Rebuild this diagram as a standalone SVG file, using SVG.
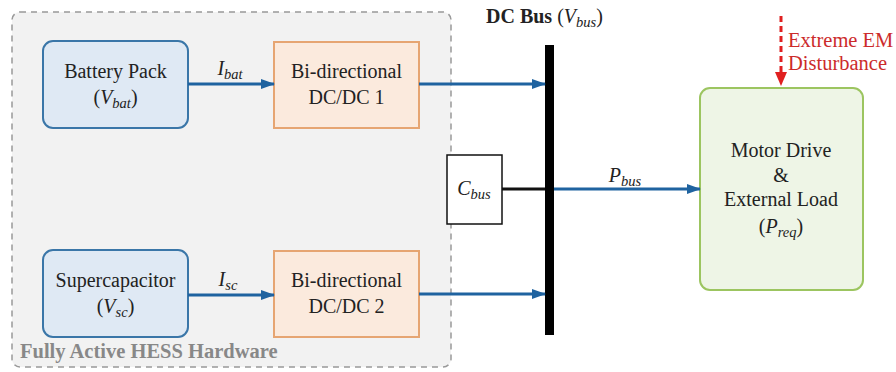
<svg xmlns="http://www.w3.org/2000/svg" width="896" height="372" viewBox="0 0 896 372" font-family="'Liberation Serif', 'Times New Roman', Times, 'DejaVu Serif', serif">
<style>
text{font-size:20px;fill:#222;text-anchor:middle}
.src{fill:#dfe9f4;stroke:#3a76a8;stroke-width:2}
.conv{fill:#fbeadd;stroke:#e6a572;stroke-width:2}
.load{fill:#eef5e6;stroke:#9cc560;stroke-width:2}
.flow{stroke:#1f63a0;stroke-width:3;fill:none}
.it{font-style:italic}
.sub{font-size:14.5px;font-style:italic}
.red{fill:#cc2b2b;font-size:20.5px}
</style>
<defs>
<marker id="ab" markerWidth="14" markerHeight="10" refX="13" refY="5" orient="auto" markerUnits="userSpaceOnUse"><path d="M0,0 L14,5 L0,10 Z" fill="#1f63a0"/></marker>
</defs>
<g id="hess">
<rect x="12" y="12" width="439" height="355" rx="8" fill="#f2f2f2" stroke="#999" stroke-width="1.5" stroke-dasharray="6,5"/>
<text x="20" y="358" style="font-weight:bold;fill:#888;text-anchor:start;font-size:20.5px">Fully Active HESS Hardware</text>
</g>
<g id="battery">
<rect class="src" x="43" y="41" width="145" height="87" rx="10"/>
<text x="115.5" y="78">Battery Pack</text>
<text x="115.5" y="104">(<tspan class="it">V</tspan><tspan class="sub" dy="4">bat</tspan><tspan dy="-4">)</tspan></text>
</g>
<g id="dcdc1">
<rect class="conv" x="274" y="42" width="145" height="86"/>
<text x="346.5" y="78">Bi-directional</text>
<text x="346.5" y="104">DC/DC 1</text>
</g>
<g id="supercap">
<rect class="src" x="43" y="250" width="145" height="87" rx="10"/>
<text x="115.5" y="287">Supercapacitor</text>
<text x="115.5" y="313">(<tspan class="it">V</tspan><tspan class="sub" dy="4">sc</tspan><tspan dy="-4">)</tspan></text>
</g>
<g id="dcdc2">
<rect class="conv" x="274" y="251" width="145" height="86"/>
<text x="346.5" y="287">Bi-directional</text>
<text x="346.5" y="313">DC/DC 2</text>
</g>
<g id="cbus">
<rect x="447" y="155" width="55" height="69" fill="#fff" stroke="#111" stroke-width="1.5"/>
<text x="474" y="195"><tspan class="it">C</tspan><tspan class="sub" dy="4">bus</tspan></text>
</g>
<g id="dcbus">
<rect x="545" y="45" width="9" height="290" fill="#000"/>
<text x="486" y="23" style="text-anchor:start"><tspan style="font-weight:bold">DC Bus</tspan> (<tspan class="it">V</tspan><tspan class="sub" dy="4">bus</tspan><tspan dy="-4">)</tspan></text>
</g>
<g id="load">
<rect class="load" x="700" y="88" width="163" height="202" rx="10"/>
<text x="781" y="157">Motor Drive</text>
<text x="781" y="182">&amp;</text>
<text x="781" y="206">External Load</text>
<text x="781" y="233">(<tspan class="it">P</tspan><tspan class="sub" dy="4">req</tspan><tspan dy="-4">)</tspan></text>
</g>
<g id="disturbance">
<text class="red" x="788" y="47" style="text-anchor:start">Extreme EM</text>
<text class="red" x="788" y="70" style="text-anchor:start">Disturbance</text>
</g>
<g id="connectors">
<line class="flow" x1="188" y1="84" x2="274" y2="84" marker-end="url(#ab)"/>
<line class="flow" x1="188" y1="295" x2="274" y2="295" marker-end="url(#ab)"/>
<line class="flow" x1="419" y1="84" x2="545" y2="84" marker-end="url(#ab)"/>
<line class="flow" x1="419" y1="294" x2="545" y2="294" marker-end="url(#ab)"/>
<line class="flow" x1="554" y1="189" x2="700" y2="189" marker-end="url(#ab)"/>
<line x1="502" y1="189" x2="545" y2="189" stroke="#111" stroke-width="3"/>
<line x1="781" y1="16" x2="781" y2="74" stroke="#e02020" stroke-width="3" stroke-dasharray="6,4"/>
<path d="M775,72 L787,72 L781,86 Z" fill="#e02020"/>
<text x="230" y="75"><tspan class="it">I</tspan><tspan class="sub" dy="4">bat</tspan></text>
<text x="228" y="286"><tspan class="it">I</tspan><tspan class="sub" dy="4">sc</tspan></text>
<text x="625" y="182"><tspan class="it">P</tspan><tspan class="sub" dy="4">bus</tspan></text>
</g>
</svg>
